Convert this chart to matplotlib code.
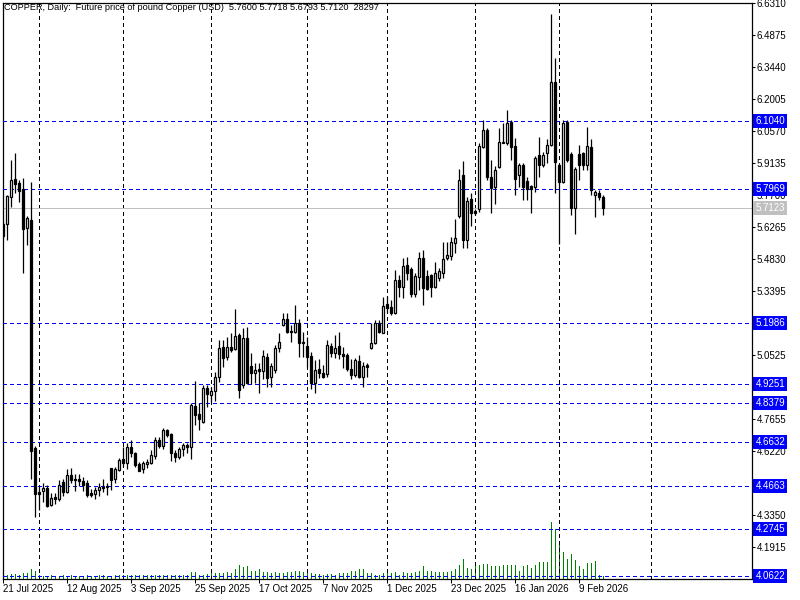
# coding=utf-8

import numpy as np
import matplotlib
matplotlib.use('Agg')
import matplotlib.pyplot as plt
import matplotlib.transforms as mtransforms

# MT4-ish look: small sans font
plt.rcParams['font.family'] = ['Liberation Sans', 'DejaVu Sans']
plt.rcParams['font.size'] = 7

title = "COPPER, Daily:  Future price of pound Copper (USD)  5.7600 5.7718 5.6793 5.7120  28297"

# daily candles (one per trading day from 21 Jul 2025)
opens = [5.641, 5.640, 5.761, 5.843, 5.825, 5.797, 5.622, 5.659, 4.635, 4.439,
         4.445, 4.457, 4.379, 4.417, 4.409, 4.482, 4.440, 4.514, 4.497, 4.497,
         4.488, 4.478, 4.435, 4.429, 4.447, 4.462, 4.460, 4.545, 4.499, 4.538,
         4.586, 4.570, 4.641, 4.615, 4.565, 4.541, 4.563, 4.570, 4.602, 4.671,
         4.647, 4.717, 4.699, 4.614, 4.597, 4.630, 4.650, 4.640, 4.825, 4.789,
         4.755, 4.904, 4.873, 4.891, 4.953, 5.088, 5.043, 5.088, 5.079, 5.143,
         4.919, 5.128, 5.004, 4.974, 4.989, 4.983, 5.043, 4.953, 4.986, 5.083,
         5.189, 5.213, 5.162, 5.158, 5.198, 5.112, 5.094, 5.049, 4.927, 4.989,
         4.971, 4.967, 5.094, 5.061, 5.094, 5.058, 5.053, 4.989, 4.964, 5.027,
         4.953, 5.009, 5.083, 5.106, 5.198, 5.154, 5.281, 5.270, 5.243, 5.390,
         5.360, 5.457, 5.438, 5.327, 5.402, 5.487, 5.408, 5.412, 5.357, 5.400,
         5.423, 5.487, 5.499, 5.557, 5.678, 5.861, 5.569, 5.753, 5.699, 5.707,
         5.988, 6.063, 5.850, 5.806, 5.895, 6.003, 6.003, 6.100, 5.991, 5.861,
         5.906, 5.834, 5.811, 5.806, 5.951, 5.904, 5.961, 5.995, 6.279, 5.906,
         5.831, 6.100, 5.955, 5.714, 5.955, 5.958, 5.906, 5.988, 5.771, 5.781,
         5.7600]
highs = [5.650, 5.771, 5.928, 5.958, 5.838, 5.846, 5.677, 5.831, 4.645, 4.466,
         4.478, 4.469, 4.433, 4.436, 4.493, 4.496, 4.541, 4.545, 4.520, 4.520,
         4.505, 4.493, 4.454, 4.460, 4.478, 4.496, 4.478, 4.548, 4.552, 4.593,
         4.642, 4.657, 4.672, 4.620, 4.575, 4.579, 4.586, 4.627, 4.684, 4.684,
         4.727, 4.722, 4.702, 4.627, 4.642, 4.660, 4.657, 4.839, 4.938, 4.839,
         4.919, 4.919, 4.911, 4.979, 5.121, 5.121, 5.136, 5.154, 5.259, 5.150,
         5.173, 5.180, 5.061, 5.016, 5.016, 5.076, 5.064, 5.019, 5.098, 5.154,
         5.243, 5.243, 5.188, 5.278, 5.213, 5.158, 5.136, 5.068, 5.031, 5.034,
         5.009, 5.121, 5.106, 5.143, 5.158, 5.091, 5.061, 5.034, 5.039, 5.053,
         5.024, 5.016, 5.196, 5.210, 5.210, 5.312, 5.318, 5.300, 5.435, 5.412,
         5.487, 5.492, 5.450, 5.420, 5.517, 5.524, 5.435, 5.417, 5.472, 5.445,
         5.562, 5.562, 5.584, 5.662, 5.888, 5.924, 5.763, 5.779, 5.710, 6.003,
         6.108, 6.070, 5.928, 5.901, 6.070, 6.093, 6.152, 6.108, 6.025, 5.913,
         5.913, 5.853, 5.816, 5.946, 6.033, 5.965, 6.021, 6.583, 6.387, 5.913,
         6.108, 6.108, 5.965, 5.895, 5.995, 5.965, 6.078, 6.021, 5.794, 5.794,
         5.7718]
lows = [5.575, 5.569, 5.719, 5.779, 5.741, 5.423, 5.547, 4.497, 4.328, 4.358,
        4.396, 4.370, 4.376, 4.385, 4.400, 4.421, 4.435, 4.478, 4.445, 4.466,
        4.445, 4.418, 4.415, 4.406, 4.421, 4.440, 4.427, 4.448, 4.481, 4.535,
        4.552, 4.541, 4.595, 4.552, 4.532, 4.523, 4.545, 4.563, 4.586, 4.635,
        4.632, 4.687, 4.578, 4.575, 4.586, 4.600, 4.612, 4.588, 4.740, 4.717,
        4.750, 4.819, 4.837, 4.848, 4.934, 4.998, 5.031, 5.068, 5.076, 4.859,
        4.904, 4.923, 4.923, 4.927, 4.882, 4.944, 4.911, 4.911, 4.974, 5.068,
        5.184, 5.154, 5.113, 5.151, 5.046, 5.046, 5.001, 4.899, 4.884, 4.949,
        4.949, 4.956, 5.046, 5.039, 5.034, 4.994, 4.983, 4.944, 4.953, 4.949,
        4.911, 4.956, 5.079, 5.103, 5.150, 5.151, 5.240, 5.233, 5.237, 5.315,
        5.308, 5.390, 5.312, 5.315, 5.345, 5.278, 5.345, 5.315, 5.353, 5.385,
        5.397, 5.480, 5.480, 5.510, 5.667, 5.532, 5.532, 5.633, 5.680, 5.696,
        5.981, 5.838, 5.692, 5.731, 5.891, 6.003, 5.995, 5.928, 5.771, 5.808,
        5.749, 5.749, 5.692, 5.786, 5.853, 5.898, 5.913, 5.990, 5.779, 5.551,
        5.824, 5.921, 5.681, 5.596, 5.838, 5.883, 5.883, 5.771, 5.674, 5.749,
        5.6793]
closes = [5.589, 5.767, 5.838, 5.822, 5.789, 5.617, 5.667, 4.624, 4.429, 4.432,
          4.457, 4.376, 4.411, 4.409, 4.469, 4.439, 4.515, 4.493, 4.491, 4.490,
          4.470, 4.425, 4.427, 4.448, 4.460, 4.458, 4.467, 4.493, 4.542, 4.583,
          4.570, 4.641, 4.615, 4.561, 4.535, 4.569, 4.575, 4.605, 4.672, 4.645,
          4.717, 4.696, 4.612, 4.597, 4.630, 4.650, 4.640, 4.829, 4.786, 4.768,
          4.904, 4.877, 4.892, 4.953, 5.083, 5.039, 5.088, 5.076, 5.139, 4.896,
          5.128, 4.927, 4.971, 4.986, 4.983, 5.049, 4.949, 5.004, 5.083, 5.113,
          5.213, 5.158, 5.158, 5.196, 5.106, 5.106, 5.046, 4.927, 4.986, 4.974,
          4.956, 5.098, 5.061, 5.085, 5.058, 5.050, 4.989, 4.964, 5.031, 4.953,
          5.004, 4.998, 5.109, 5.198, 5.158, 5.273, 5.263, 5.240, 5.390, 5.360,
          5.453, 5.423, 5.327, 5.408, 5.487, 5.353, 5.348, 5.360, 5.423, 5.430,
          5.483, 5.502, 5.559, 5.578, 5.838, 5.569, 5.744, 5.692, 5.692, 5.991,
          6.063, 5.850, 5.804, 5.883, 6.007, 6.009, 6.093, 5.988, 5.842, 5.906,
          5.806, 5.799, 5.799, 5.936, 5.904, 5.951, 5.995, 6.279, 5.921, 5.831,
          6.093, 5.928, 5.714, 5.886, 5.906, 5.906, 5.991, 5.794, 5.783, 5.761,
          5.7120]
# tick volume, thousands
volumes = [37, 45, 53, 53, 45, 57, 64, 113, 90, 34,
           28, 28, 34, 28, 28, 34, 23, 34, 28, 28,
           28, 34, 28, 28, 34, 34, 28, 28, 34, 34,
           34, 34, 40, 34, 34, 34, 40, 34, 34, 40,
           45, 34, 45, 34, 40, 40, 45, 71, 79, 34,
           45, 53, 57, 64, 57, 57, 76, 64, 110, 150,
           132, 139, 82, 82, 113, 71, 71, 64, 71, 57,
           64, 71, 71, 82, 90, 71, 57, 64, 49, 49,
           45, 49, 49, 45, 64, 64, 57, 82, 82, 102,
           113, 64, 64, 45, 45, 57, 64, 64, 76, 45,
           71, 64, 64, 76, 82, 139, 82, 82, 71, 71,
           71, 71, 90, 102, 158, 215, 121, 102, 158, 147,
           166, 166, 139, 139, 139, 158, 158, 158, 158, 90,
           139, 150, 121, 150, 189, 184, 184, 642, 559, 427,
           304, 221, 281, 214, 146, 102, 170, 176, 202, 45,
           28.297]

date_labels = ['21 Jul 2025', '12 Aug 2025', '3 Sep 2025', '25 Sep 2025', '17 Oct 2025',
               '7 Nov 2025', '1 Dec 2025', '23 Dec 2025', '16 Jan 2026', '9 Feb 2026']
bars_per_label = 16
# first trading day of each month (bar index)
month_start_bars = [9, 30, 52, 76, 96, 118, 139, 162]

price_ticks = [6.6310, 6.4875, 6.3440, 6.2005, 6.0570, 5.9135, 5.7700, 5.6265, 5.4830,
               5.3395, 5.1960, 5.0525, 4.9090, 4.7655, 4.6220, 4.4785, 4.3350, 4.1915]
# horizontal levels drawn on the chart
levels = [6.1040, 5.7969, 5.1986, 4.9251, 4.8379, 4.6632, 4.4663, 4.2745, 4.0622]
bid_price = 5.7123

PX = 0.72  # one screen pixel in points at dpi 100

fig = plt.figure(figsize=(8, 6), dpi=100)
fig.patch.set_facecolor('white')
ax = fig.add_axes([2.5 / 800, 1 - 578.5 / 600, 749.5 / 800, 576 / 600])
vax = ax.twinx()

x = np.arange(len(opens))
o = np.array(opens)
h = np.array(highs)
l = np.array(lows)
c = np.array(closes)
up = c >= o

# volume histogram in the bottom of the window
vax.vlines(x, 0, volumes, color='#008000', lw=PX, antialiased=False)
vax.set_ylim(0, 6509)
vax.set_yticks([])
for s in vax.spines.values():
    s.set_visible(False)

# candles
ax.vlines(x, l, h, color='black', lw=0.9, zorder=3)
ax.bar(x, c - o, bottom=o, width=0.55, color=np.where(up, 'white', 'black'),
       edgecolor='black', linewidth=0.9, zorder=4)

# grid: only vertical, at month starts
for b in month_start_bars:
    ax.axvline(b, color='black', lw=PX, ls=(0, (3, 3)), zorder=1, antialiased=False)

for lv in levels:
    ax.axhline(lv, color='#0000ff', lw=PX, ls=(0, (3, 3)), zorder=2.6, antialiased=False)
ax.axhline(bid_price, color='#c0c0c0', lw=PX, zorder=2, antialiased=False)

ax.set_xlim(-0.05, 187.325)
ax.set_ylim(4.0510, 6.6346)

ax.yaxis.tick_right()
ax.set_yticks(price_ticks)
ax.set_yticklabels(['%.4f' % p for p in price_ticks])
ax.tick_params(axis='y', direction='out', length=2.2, width=0.75, pad=1.2, labelsize=7)

ax.set_xticks(np.arange(len(date_labels)) * bars_per_label)
ax.set_xticklabels(date_labels, ha='left')
ax.tick_params(axis='x', direction='out', length=3, width=0.75, pad=1.2, labelsize=7)

for s in ax.spines.values():
    s.set_linewidth(0.9)

ax.set_zorder(vax.get_zorder() + 1)
ax.patch.set_visible(False)

# price labels on the right scale (they sit over the nearby scale values, as in the terminal)
trans = mtransforms.blended_transform_factory(ax.transAxes, ax.transData)
for lv in levels:
    ax.text(1.0045, lv, '%.4f' % lv, transform=trans, ha='left', va='center', color='white',
            fontsize=7, clip_on=False, zorder=10,
            bbox=dict(boxstyle='square,pad=0.2', fc='#0000ff', ec='none'))
ax.text(1.0045, bid_price, '%.4f' % bid_price, transform=trans, ha='left', va='center',
        color='white', fontsize=7, clip_on=False, zorder=10,
        bbox=dict(boxstyle='square,pad=0.2', fc='#c0c0c0', ec='none'))

ax.text(0.002, 0.9905, title, transform=ax.transAxes, ha='left', va='center', fontsize=6.6, zorder=10)

fig.savefig('out.png', dpi=100)
